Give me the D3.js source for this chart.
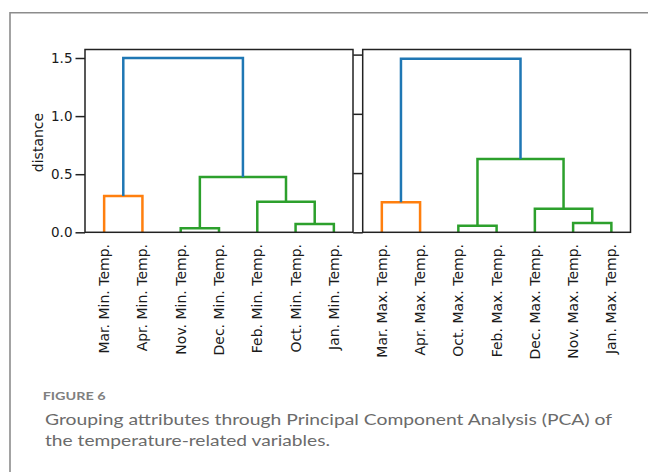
<!DOCTYPE html>
<html>
<head>
<meta charset="utf-8">
<script src="https://cdn.jsdelivr.net/npm/d3@7"></script>
<style>
  body { margin: 0; background: #fff; }
  text { font-family: "DejaVu Sans", sans-serif; fill: #1a1a1a; }
  .caption { font-family: "Lato", sans-serif; }
</style>
</head>
<body>
<div id="chart"></div>
<script>
// leaves, left to right, and merges in linkage order (ids 0..6 are leaves)
var minLabels = ["Mar. Min. Temp.", "Apr. Min. Temp.", "Nov. Min. Temp.", "Dec. Min. Temp.",
  "Feb. Min. Temp.", "Oct. Min. Temp.", "Jan. Min. Temp."];
var minMerges = [
  { a: 2, b: 3, h: 0.034, c: "green" },
  { a: 5, b: 6, h: 0.071, c: "green" },
  { a: 4, b: 8, h: 0.263, c: "green" },
  { a: 0, b: 1, h: 0.312, c: "orange" },
  { a: 7, b: 9, h: 0.476, c: "green" },
  { a: 10, b: 11, h: 1.5, c: "blue" }
];

var maxLabels = ["Mar. Max. Temp.", "Apr. Max. Temp.", "Oct. Max. Temp.", "Feb. Max. Temp.",
  "Dec. Max. Temp.", "Nov. Max. Temp.", "Jan. Max. Temp."];
var maxMerges = [
  { a: 2, b: 3, h: 0.056, c: "green" },
  { a: 5, b: 6, h: 0.078, c: "green" },
  { a: 4, b: 8, h: 0.199, c: "green" },
  { a: 0, b: 1, h: 0.253, c: "orange" },
  { a: 7, b: 9, h: 0.619, c: "green" },
  { a: 10, b: 11, h: 1.465, c: "blue" }
];

var yTicks = [0, 0.5, 1.0, 1.5];

var colors = { blue: "#1f77b4", orange: "#ff7f0e", green: "#2ca02c" };

var width = 648, height = 472;

var svg = d3.select("#chart")
  .append("svg")
  .attr("width", width)
  .attr("height", height);

// outer figure frame (only top and left visible)
svg.append("path")
  .attr("d", "M10,472 L10,12.7 L648,12.7")
  .attr("fill", "none")
  .attr("stroke", "#8c8c8c")
  .attr("stroke-width", 1.6);

function drawPanel(labels, merges, left, right, y0, y15, showLabels) {
  var x = d3.scaleBand().domain(labels).range([left, right]);
  var y = d3.scaleLinear().domain([0, 1.5]).range([y0, y15]);
  var top = 49.5;

  var g = svg.append("g");

  // node positions: leaves first, then each merge
  var nodes = labels.map(function (l) { return { x: x(l) + x.bandwidth() / 2, h: 0 }; });
  merges.forEach(function (m) {
    var na = nodes[m.a], nb = nodes[m.b];
    g.append("path")
      .attr("d", "M" + na.x + "," + y(na.h) + "V" + y(m.h) + "H" + nb.x + "V" + y(nb.h))
      .attr("fill", "none")
      .attr("stroke", colors[m.c])
      .attr("stroke-width", 2.5);
    nodes.push({ x: (na.x + nb.x) / 2, h: m.h });
  });

  // axes box
  g.append("rect")
    .attr("x", left)
    .attr("y", top)
    .attr("width", right - left)
    .attr("height", y0 - top)
    .attr("fill", "none")
    .attr("stroke", "#222")
    .attr("stroke-width", 1.5);

  var axis = d3.axisLeft(y).tickValues(yTicks).tickSize(9.5).tickPadding(3)
    .tickFormat(showLabels ? d3.format(".1f") : "");
  var ag = g.append("g")
    .attr("transform", "translate(" + left + ",0)")
    .call(axis);
  ag.select(".domain").remove();
  ag.selectAll(".tick line").attr("stroke", "#222").attr("stroke-width", 1.5);
  ag.selectAll(".tick text")
    .style("font-size", "13.5px")
    .style("font-family", "DejaVu Sans")
    .attr("fill", "#1a1a1a");

  // leaf labels, rotated
  g.selectAll(".leaf")
    .data(labels)
    .enter()
    .append("text")
    .attr("class", "leaf")
    .attr("transform", function (d) {
      return "translate(" + (x(d) + x.bandwidth() / 2) + ",244) rotate(-90)";
    })
    .attr("dy", "0.36em")
    .attr("text-anchor", "end")
    .style("font-size", "14px")
    .text(function (d) { return d; });
}

drawPanel(minLabels, minMerges, 85, 353, 232.3, 58, true);
drawPanel(maxLabels, maxMerges, 362.7, 630.5, 232.3, 54.6, false);

svg.append("text")
  .attr("transform", "translate(43.3,142.5) rotate(-90)")
  .attr("text-anchor", "middle")
  .style("font-size", "14px")
  .text("distance");

// caption
svg.append("text")
  .attr("class", "caption")
  .attr("x", 42.7)
  .attr("y", 400)
  .attr("textLength", 63)
  .attr("lengthAdjust", "spacingAndGlyphs")
  .style("font-size", "12px")
  .style("font-weight", 700)
  .style("fill", "#808080")
  .text("FIGURE 6");

svg.append("text")
  .attr("class", "caption")
  .attr("x", 45)
  .attr("y", 425)
  .attr("textLength", 567)
  .attr("lengthAdjust", "spacingAndGlyphs")
  .style("font-size", "16px")
  .style("fill", "#6b6b6b")
  .text("Grouping attributes through Principal Component Analysis (PCA) of");

svg.append("text")
  .attr("class", "caption")
  .attr("x", 45)
  .attr("y", 445.5)
  .attr("textLength", 285)
  .attr("lengthAdjust", "spacingAndGlyphs")
  .style("font-size", "16px")
  .style("fill", "#6b6b6b")
  .text("the temperature-related variables.");
</script>
</body>
</html>
